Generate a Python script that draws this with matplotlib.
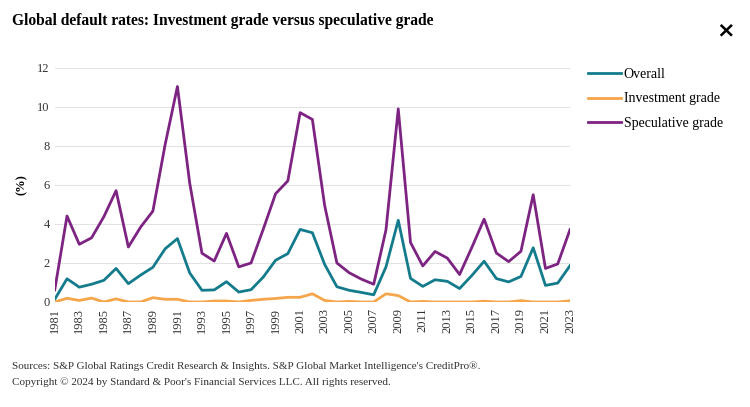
import matplotlib.pyplot as plt

years = list(range(1981, 2024))
overall = [0.14, 1.19, 0.76, 0.91, 1.11, 1.72, 0.94, 1.38, 1.78, 2.73,
           3.25, 1.49, 0.60, 0.62, 1.04, 0.51, 0.63, 1.28, 2.14, 2.48,
           3.72, 3.55, 1.93, 0.78, 0.60, 0.49, 0.37, 1.80, 4.19, 1.21,
           0.80, 1.14, 1.06, 0.69, 1.36, 2.09, 1.20, 1.03, 1.31, 2.78,
           0.85, 0.97, 1.86]
investment = [0.00, 0.19, 0.08, 0.20, 0.00, 0.16, 0.00, 0.00, 0.22, 0.14,
              0.14, 0.00, 0.00, 0.05, 0.05, 0.00, 0.08, 0.14, 0.18, 0.24,
              0.24, 0.42, 0.08, 0.00, 0.03, 0.00, 0.00, 0.42, 0.33, 0.00,
              0.03, 0.00, 0.00, 0.00, 0.00, 0.04, 0.00, 0.00, 0.07, 0.00,
              0.00, 0.00, 0.06]
speculative = [0.62, 4.41, 2.96, 3.29, 4.37, 5.71, 2.82, 3.84, 4.66, 8.08,
               11.05, 6.10, 2.50, 2.10, 3.52, 1.80, 2.00, 3.74, 5.55, 6.21,
               9.71, 9.36, 4.95, 2.00, 1.50, 1.17, 0.91, 3.70, 9.90, 3.05,
               1.85, 2.59, 2.25, 1.41, 2.80, 4.25, 2.51, 2.07, 2.60, 5.50,
               1.72, 1.95, 3.71]

plt.rcParams['font.family'] = ['Liberation Serif', 'DejaVu Serif']

fig = plt.figure(figsize=(7.5, 4.07), dpi=100)
ax = fig.add_axes([0.073, 0.258, 0.687, 0.575])

ax.plot(years, overall, color='#137b8b', lw=2, label='Overall')
ax.plot(years, investment, color='#f5a54a', lw=2, label='Investment grade')
ax.plot(years, speculative, color='#7d2382', lw=2, label='Speculative grade')

ax.set_xlim(1981, 2023)
ax.set_ylim(0, 12)
ax.set_yticks(range(0, 13, 2))
ax.set_xticks(years[::2])
ax.set_xticklabels([str(y) for y in years[::2]], rotation=90)
ax.tick_params(length=0, labelsize=9, colors='#333333')
ax.tick_params(axis='x', pad=4)
ax.grid(axis='y', color='#e3e3e3', lw=0.8)
ax.set_axisbelow(True)
for s in ax.spines.values():
    s.set_visible(False)
ax.set_ylabel('(%)', fontsize=9, fontweight='bold', labelpad=7)

ax.legend(loc='upper left', bbox_to_anchor=(1.01, 1.055), frameon=False,
          fontsize=10, handlelength=2.4, handletextpad=0.2, labelspacing=0.85)

fig.text(0.016, 0.948, 'Global default rates: Investment grade versus speculative grade',
         fontsize=11.2, fontweight='bold', va='center')
fig.text(0.968, 0.925, '\u00d7', fontsize=16, fontweight='bold', va='center', ha='center',
         family='DejaVu Sans')
fig.text(0.016, 0.1, "Sources: S&P Global Ratings Credit Research & Insights. S&P Global Market Intelligence's CreditPro\u00ae.",
         fontsize=8, color='#333333', va='center')
fig.text(0.016, 0.061, "Copyright \u00a9 2024 by Standard & Poor's Financial Services LLC. All rights reserved.",
         fontsize=8, color='#333333', va='center')

fig.savefig('out.png', dpi=100)
